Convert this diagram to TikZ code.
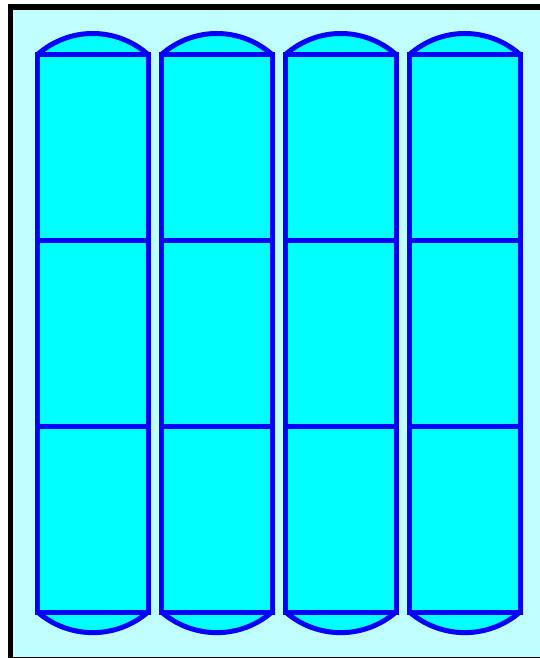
\documentclass[tikz,border=0pt]{standalone}
\definecolor{bgcyan}{HTML}{C0FFFF}
\definecolor{tankfill}{HTML}{00FFFF}
\definecolor{tankblue}{HTML}{0000FF}
\tikzset{
  tankfillst/.style={fill=tankfill},
  tank/.style={fill=tankfill, draw=tankblue, line width=5pt, line join=miter},
  tankline/.style={draw=tankblue, line width=5pt},
  frame/.style={draw=black, fill=bgcyan, line width=5.5pt}
}
\begin{document}
\begin{tikzpicture}[x=1pt,y=-1pt]
\useasboundingbox (0,0) rectangle (540,658);
\clip (0,0) rectangle (540,658);
\path[frame] (10.5,7) rectangle (546,660.2);
\foreach \i in {0,1,2,3} {
  \pgfmathsetmacro\xl{37.5+124*\i}
  \pgfmathsetmacro\xr{\xl+110.5}
  \pgfmathsetmacro\cl{\xl+31.7}
  \pgfmathsetmacro\cr{\xr-31.7}
  \path[tankfillst] (\xl,54.5) .. controls (\cl,26.5) and (\cr,26.5) .. (\xr,54.5) -- cycle;
  \path[tankfillst] (\xl,612) .. controls (\cl,639.5) and (\cr,639.5) .. (\xr,612) -- cycle;
  \draw[tankline] (\xl,54.5) .. controls (\cl,26.5) and (\cr,26.5) .. (\xr,54.5);
  \draw[tankline] (\xl,612) .. controls (\cl,639.5) and (\cr,639.5) .. (\xr,612);
  \path[tank] (\xl,54.5) rectangle (\xr,612);
  \draw[tankline] (\xl,240.5) -- (\xr,240.5);
  \draw[tankline] (\xl,426) -- (\xr,426);
}
\end{tikzpicture}
\end{document}
